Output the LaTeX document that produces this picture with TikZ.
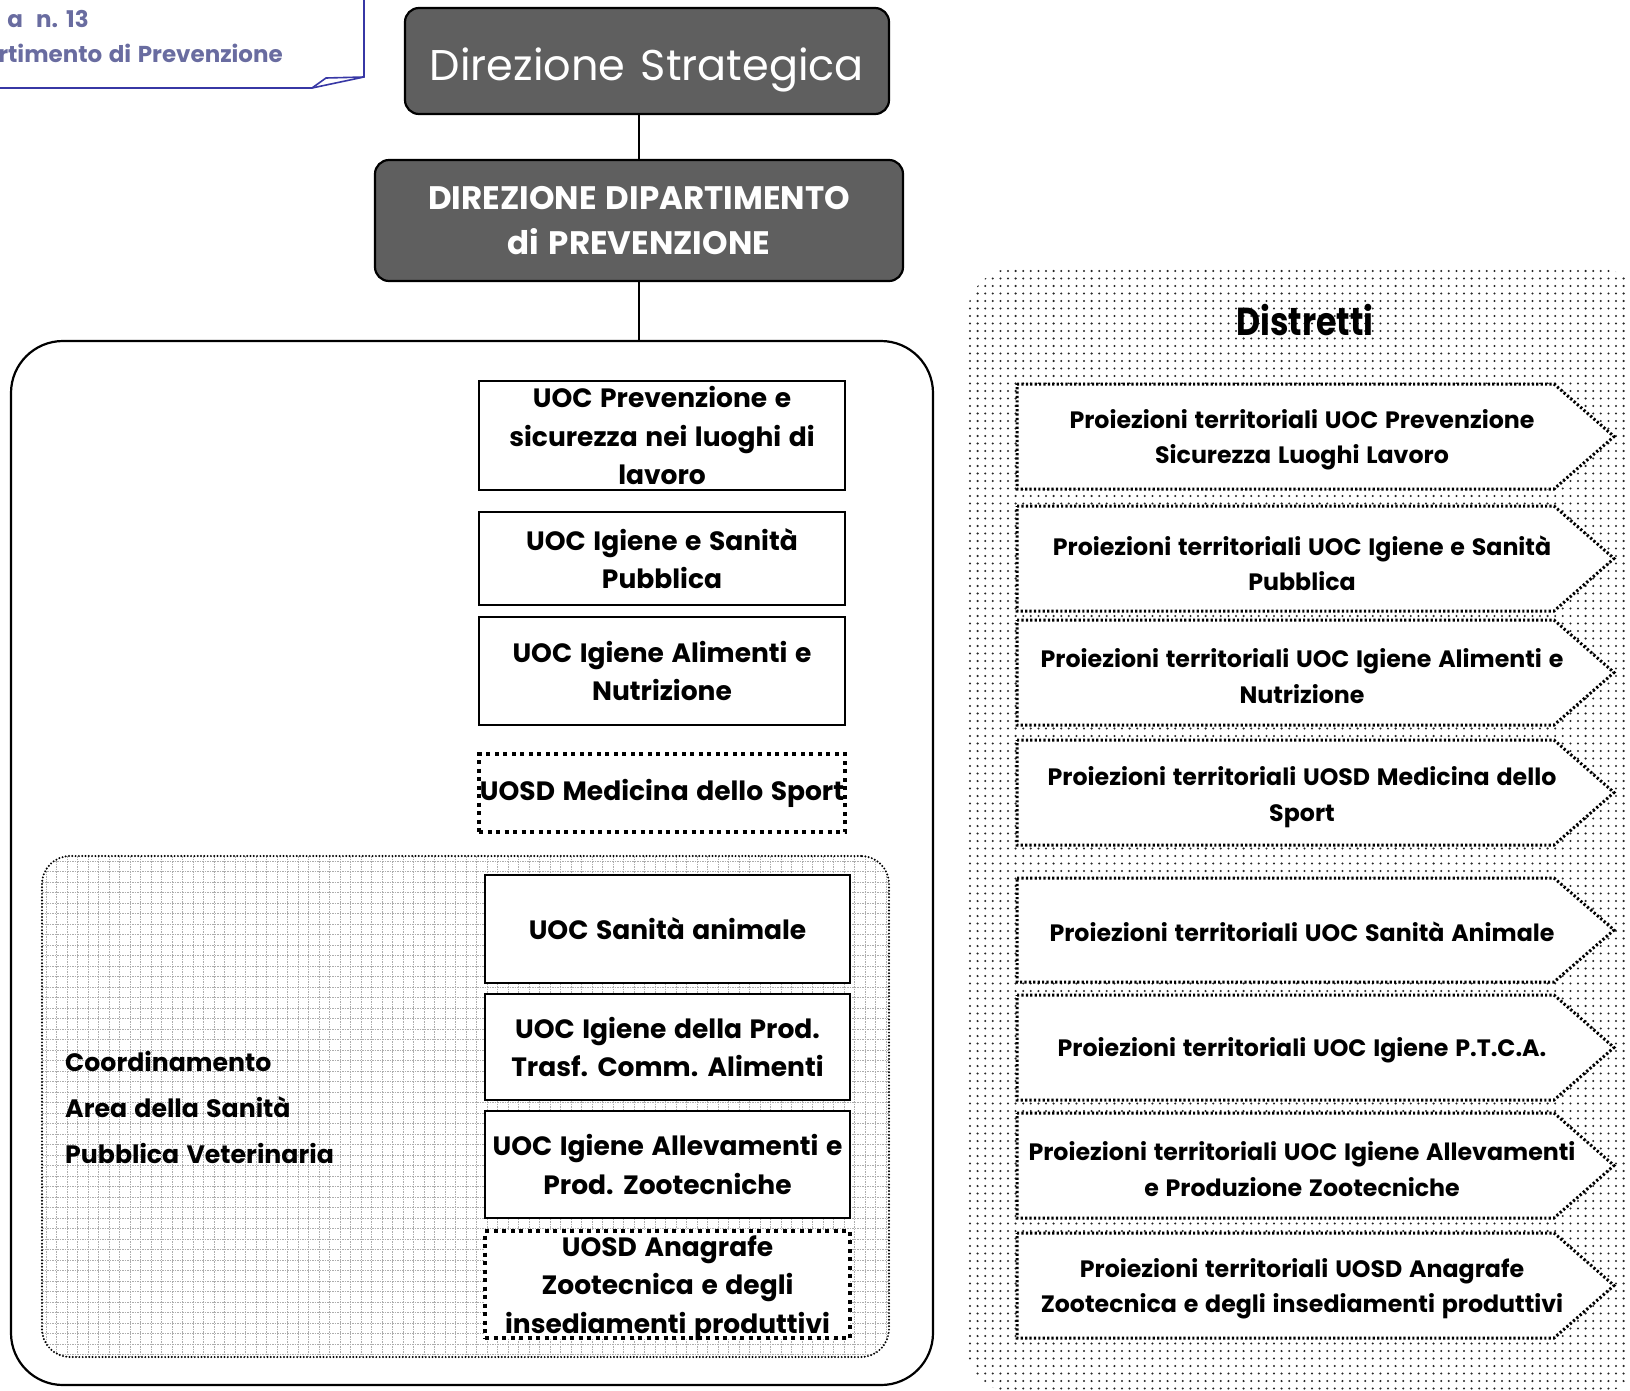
\documentclass[tikz,border=0pt]{standalone}
\usepackage{fontspec}
\setmainfont{Poppins}[WordSpace=1.35]
\newfontfamily\disfont{Poppins}[FakeStretch=0.85]
\definecolor{darkbox}{RGB}{95,95,95}
\definecolor{capline}{RGB}{55,55,165}
\definecolor{captext}{RGB}{105,108,160}
\newcommand\unitfont{\fontsize{26.5}{38.5}\selectfont\bfseries}
\newcommand\profont{\fontsize{23.7}{35.3}\selectfont\bfseries}
\begin{document}
\begin{tikzpicture}[x=1pt,y=-1pt,
  darkbox/.style={draw=black, line width=2.2pt, fill=darkbox, rounded corners=14pt, text=white, align=center, inner sep=0pt},
  conn/.style={draw=black, line width=2.5pt},
  unitbox/.style={draw=black, line width=2.6pt, fill=white, minimum width=366pt, align=center, font=\unitfont, inner sep=0pt},
  uosdbox/.style={unitbox, line width=3.4pt, dash pattern=on 4pt off 4.5pt},
  bigbox/.style={draw=black, line width=2.2pt, rounded corners=52pt, fill=white, inner sep=0pt},
  vetarea/.style={draw=black, line width=2.2pt, line cap=round, dash pattern=on 0pt off 3.3pt, rounded corners=28pt, inner sep=0pt},
  gridline/.style={draw=black!32, line width=0.7pt, dash pattern=on 1.5pt off 1pt},
  dotrow/.style={draw=black!85, line width=2.3pt, line cap=round, dash pattern=on 0pt off 7.6pt},
  penta/.style={draw=black, fill=white, line width=3pt, dash pattern=on 2.2pt off 2.2pt},
  protext/.style={font=\profont, align=center, inner sep=0pt},
  captxt/.style={text=captext, font=\fontsize{23}{26}\selectfont\bfseries, inner sep=0pt, anchor=east},
  capedge/.style={draw=capline, line width=1.6pt, line join=miter}
]
\useasboundingbox (0,0) rectangle (1630,1390);

% caption box (top-left)
\draw[capedge] (364,-5) -- (364,77) -- (312,88) -- (0,88);
\draw[capedge] (312,88) -- (326,78) -- (364,77);
\node[captxt] (cap1) at (89,19) {a\ \ n. 13};
\node[captxt] (cap2) at (283,53) {rtimento di Prevenzione};

% Distretti area
\begin{scope}
  \clip[rounded corners=48pt] (967,268) rectangle (1645,1393);
  \foreach \y in {271,278.5,...,1393} \draw[dotrow] (970,\y) -- (1645,\y);
\end{scope}
\node[font=\disfont\fontsize{39}{42}\selectfont\bfseries, inner sep=0pt] (distr) at (1305,320) {Distretti};

% pentagons
\foreach \t/\b in {384/489, 506/611, 620/725, 740/845, 878/982, 995/1100, 1113/1218, 1233/1338}{
  \pgfmathsetmacro\m{(\t+\b)/2}
  \draw[penta] (1017,\t) -- (1554,\t) -- (1614,\m) -- (1554,\b) -- (1017,\b) -- cycle;
}
\node[protext] (d1) at (1302,440) {Proiezioni territoriali UOC Prevenzione\\Sicurezza Luoghi Lavoro};
\node[protext] (d2) at (1302,563) {Proiezioni territoriali UOC Igiene e Sanità\\Pubblica};
\node[protext] (d3) at (1302,676) {Proiezioni territoriali UOC Igiene Alimenti e\\Nutrizione};
\node[protext] (d4) at (1302,797) {Proiezioni territoriali UOSD Medicina dello\\Sport};
\node[protext] (d5) at (1302,932) {Proiezioni territoriali UOC Sanità Animale};
\node[protext] (d6) at (1302,1050) {Proiezioni territoriali UOC Igiene P.T.C.A.};
\node[protext] (d7) at (1302,1169) {Proiezioni territoriali UOC Igiene Allevamenti\\e Produzione Zootecniche};
\node[protext] (d8) at (1302,1289) {Proiezioni territoriali UOSD Anagrafe\\Zootecnica e degli insediamenti produttivi};

% top boxes
\node[darkbox, minimum width=484pt, minimum height=106pt, font=\fontsize{43}{50}\selectfont, text height=39pt, text depth=0pt] (ds) at (647,61) {Direzione Strategica};
\node[darkbox, minimum width=528pt, minimum height=121pt, font=\fontsize{32.5}{45.7}\selectfont\bfseries] (ddp) at (639,220.5) {DIREZIONE DIPARTIMENTO\\di PREVENZIONE};

% department box
\node[bigbox, minimum width=922pt, minimum height=1044pt] (dip) at (472,863) {};
\draw[conn] (ddp.north) -- (ddp.north |- ds.south);
\draw[conn] (ddp) -- (ddp |- dip.north);

% veterinary area with grid
\begin{scope}
  \clip[rounded corners=28pt] (42,856) rectangle (889,1357);
  \foreach \x in {46,56.5,...,889} \draw[gridline] (\x,856) -- (\x,1357);
  \foreach \y in {861,871.5,...,1357} \draw[gridline] (42,\y) -- (889,\y);
\end{scope}
\node[vetarea, minimum width=847pt, minimum height=501pt] (vet) at (465.5,1106.5) {};
\node[align=left, anchor=west, inner sep=0pt, font=\fontsize{25.2}{46}\selectfont\bfseries] (coord) at (65,1107) {Coordinamento\\Area della Sanità\\Pubblica Veterinaria};

% units
\node[unitbox, minimum height=109pt] (p1) at (662,435.5) {UOC Prevenzione e\\sicurezza nei luoghi di\\lavoro};
\node[unitbox, minimum height=93pt] (p2) at (662,558.5) {UOC Igiene e Sanità\\Pubblica};
\node[unitbox, minimum height=108pt] (p3) at (662,671) {UOC Igiene Alimenti e\\Nutrizione};
\node[uosdbox, minimum height=78pt] (p4) at (662,793) {UOSD Medicina dello Sport};

\node[unitbox, minimum width=365pt, minimum height=108pt] (v1) at (667.5,929) {UOC Sanità animale};
\node[unitbox, minimum width=365pt, minimum height=106pt] (v2) at (667.5,1047) {UOC Igiene della Prod.\\Trasf. Comm. Alimenti};
\node[unitbox, minimum width=365pt, minimum height=107pt] (v3) at (667.5,1164.5) {UOC Igiene Allevamenti e\\Prod. Zootecniche};
\node[uosdbox, minimum width=365pt, minimum height=107pt, text depth=0pt] (v4) at (667.5,1284.5) {UOSD Anagrafe\\Zootecnica e degli\\insediamenti produttivi};
\end{tikzpicture}
\end{document}
